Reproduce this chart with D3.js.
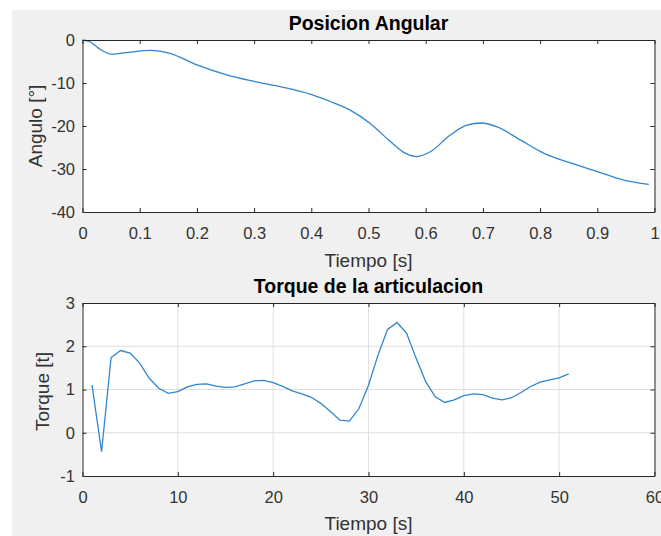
<!DOCTYPE html>
<html>
<head>
<meta charset="utf-8">
<script src="https://cdn.jsdelivr.net/npm/d3@7"></script>
<style>
  body { margin: 0; background: #fff; }
  svg { display: block; font-family: "Liberation Sans", Arial, sans-serif; }
  .tick text { fill: #333; font-size: 16.5px; }
  .domain { stroke: #262626; }
  .tick line { stroke: #262626; }
</style>
</head>
<body>
<div id="chart"></div>
<script>
// Posicion angular (tiempo en s, angulo en grados)
const angTime = [0, 0.013, 0.028, 0.051, 0.085, 0.118, 0.153, 0.2, 0.252, 0.299, 0.351, 0.398, 0.433,
  0.468, 0.503, 0.538, 0.564, 0.585, 0.608, 0.643, 0.672, 0.698, 0.725, 0.766, 0.806, 0.853, 0.9, 0.946, 0.99];
const angValues = [0, -0.4, -1.9, -3.3, -2.8, -2.4, -3.1, -5.8, -8.1, -9.6, -11, -12.6, -14.3,
  -16.3, -19.4, -23.6, -26.3, -27.1, -26, -22.1, -19.8, -19.3, -20.2, -23.3, -26.3, -28.6, -30.6, -32.6, -33.6];

// Torque de la articulacion (muestras 1..51)
const torqueTime = d3.range(1, 52);
const torqueValues = [1.10, -0.44, 1.74, 1.90, 1.84, 1.61, 1.26, 1.03, 0.91, 0.95,
  1.06, 1.12, 1.13, 1.08, 1.05, 1.06, 1.13, 1.20, 1.21, 1.16,
  1.07, 0.97, 0.90, 0.82, 0.68, 0.49, 0.29, 0.27, 0.56, 1.10,
  1.80, 2.39, 2.55, 2.30, 1.72, 1.18, 0.83, 0.70, 0.76, 0.86,
  0.90, 0.88, 0.80, 0.76, 0.81, 0.93, 1.07, 1.17, 1.22, 1.27, 1.36];

const angXTicks = [0, 0.1, 0.2, 0.3, 0.4, 0.5, 0.6, 0.7, 0.8, 0.9, 1];
const angYTicks = [0, -10, -20, -30, -40];
const torqueXTicks = [0, 10, 20, 30, 40, 50, 60];
const torqueYTicks = [-1, 0, 1, 2, 3];

const width = 661, height = 536;
const lineColor = '#2f86cf';

var svg = d3.select('#chart')
    .append('svg')
    .attr('width', width)
    .attr('height', height);

// Fondo gris de la figura
svg.append('rect')
    .attr('x', 12).attr('y', 10)
    .attr('width', width - 12).attr('height', height - 10)
    .attr('fill', '#f0f0f0');

drawPanel({
    top: 40, bottom: 212, left: 82.5, right: 654.5,
    xDomain: [0, 1], yDomain: [-40, 0],
    xTicks: angXTicks, yTicks: angYTicks,
    xs: angTime, ys: angValues,
    grid: false, curve: d3.curveMonotoneX,
    title: 'Posicion Angular', titleY: 29.5,
    xLabel: 'Tiempo [s]', xLabelY: 266.5,
    yLabel: 'Angulo [°]', yLabelX: 41.5, yLabelDy: 0
});

drawPanel({
    top: 303, bottom: 476, left: 82.5, right: 654.5,
    xDomain: [0, 60], yDomain: [-1, 3],
    xTicks: torqueXTicks, yTicks: torqueYTicks,
    xs: torqueTime, ys: torqueValues,
    grid: true, curve: d3.curveLinear,
    title: 'Torque de la articulacion', titleY: 292.5,
    xLabel: 'Tiempo [s]', xLabelY: 530,
    yLabel: 'Torque [t]', yLabelX: 48.5, yLabelDy: 2
});

// Dibuja un panel estilo MATLAB: caja, ticks hacia dentro, linea azul
function drawPanel(p) {
    const x = d3.scaleLinear().domain(p.xDomain).range([p.left, p.right]);
    const y = d3.scaleLinear().domain(p.yDomain).range([p.bottom, p.top]);
    const fmt = d => String(d);

    const g = svg.append('g');

    g.append('rect')
        .attr('x', p.left).attr('y', p.top)
        .attr('width', p.right - p.left).attr('height', p.bottom - p.top)
        .attr('fill', '#fff');

    if (p.grid) {
        g.append('g').selectAll('line')
            .data(p.xTicks.slice(1, -1))
            .enter().append('line')
            .attr('x1', d => x(d)).attr('x2', d => x(d))
            .attr('y1', p.top).attr('y2', p.bottom)
            .attr('stroke', '#dfdfdf');
        g.append('g').selectAll('line')
            .data(p.yTicks.slice(1, -1))
            .enter().append('line')
            .attr('x1', p.left).attr('x2', p.right)
            .attr('y1', d => y(d)).attr('y2', d => y(d))
            .attr('stroke', '#dfdfdf');
    }

    const line = d3.line()
        .x((d, i) => x(p.xs[i]))
        .y(d => y(d))
        .curve(p.curve);

    g.append('path')
        .datum(p.ys)
        .attr('d', line)
        .attr('fill', 'none')
        .attr('stroke', lineColor)
        .attr('stroke-width', 1.3);

    // ejes con ticks hacia dentro
    g.append('g')
        .attr('transform', `translate(0,${p.bottom})`)
        .call(d3.axisBottom(x).tickValues(p.xTicks).tickFormat(fmt).tickSizeInner(-4).tickSizeOuter(0).tickPadding(15.5));
    g.append('g')
        .attr('transform', `translate(0,${p.top})`)
        .call(d3.axisTop(x).tickValues(p.xTicks).tickFormat('').tickSizeInner(-4).tickSizeOuter(0));
    g.append('g')
        .attr('transform', `translate(${p.left},0)`)
        .call(d3.axisLeft(y).tickValues(p.yTicks).tickFormat(fmt).tickSizeInner(-4).tickSizeOuter(0).tickPadding(7.5));
    g.append('g')
        .attr('transform', `translate(${p.right},0)`)
        .call(d3.axisRight(y).tickValues(p.yTicks).tickFormat('').tickSizeInner(-4).tickSizeOuter(0));

    g.selectAll('.domain').attr('stroke-width', 1);

    g.append('text')
        .attr('x', (p.left + p.right) / 2).attr('y', p.titleY)
        .attr('text-anchor', 'middle')
        .attr('font-size', 19.5).attr('font-weight', 'bold')
        .attr('fill', '#000')
        .text(p.title);

    g.append('text')
        .attr('x', (p.left + p.right) / 2).attr('y', p.xLabelY)
        .attr('text-anchor', 'middle')
        .attr('font-size', 19)
        .attr('fill', '#333')
        .text(p.xLabel);

    g.append('text')
        .attr('transform', `translate(${p.yLabelX},${(p.top + p.bottom) / 2 + p.yLabelDy}) rotate(-90)`)
        .attr('text-anchor', 'middle')
        .attr('font-size', 19)
        .attr('fill', '#333')
        .text(p.yLabel);
}
</script>
</body>
</html>
